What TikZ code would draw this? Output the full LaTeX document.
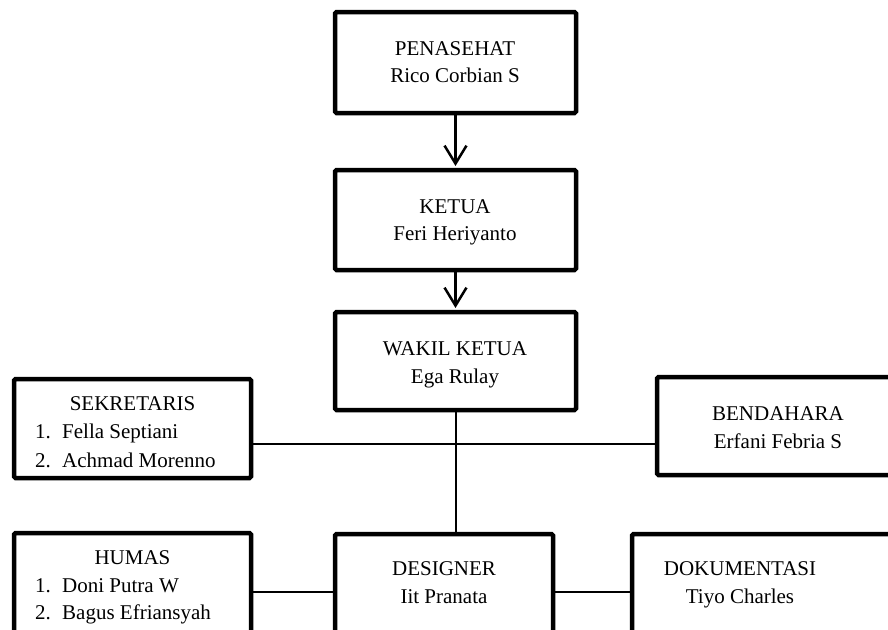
\documentclass[tikz,border=0pt]{standalone}
\usepackage{fontspec}
\setmainfont{Liberation Serif}
\usetikzlibrary{arrows.meta}
\tikzset{
  orgbox/.style={draw=black, line width=4.5pt, rounded corners=1.5pt, rectangle, inner sep=0pt, outer sep=0pt, fill=white},
  txt/.style={anchor=base, inner sep=0pt, font=\fontsize{21}{25}\selectfont},
  txtl/.style={anchor=base west, inner sep=0pt, font=\fontsize{21}{25}\selectfont},
  link/.style={draw=black, line width=2pt},
  arrowlink/.style={draw=black, line width=2.5pt, -{Straight Barb[length=18pt,width=22pt,line width=2.5pt]}, shorten >=4pt}
}
\begin{document}
\begin{tikzpicture}[x=1pt,y=-1pt]
\useasboundingbox (0,0) rectangle (888,629);
\clip (0,0) rectangle (888,629);
\fill[white] (0,0) rectangle (888,629);

% boxes
\node[orgbox, minimum width=241pt, minimum height=101pt] (pen) at (455.5,62.5) {};
\node[orgbox, minimum width=241pt, minimum height=100pt] (ket) at (455.5,220) {};
\node[orgbox, minimum width=241pt, minimum height=98pt] (wak) at (455.5,361) {};
\node[orgbox, minimum width=237pt, minimum height=99pt] (sek) at (132.5,428.5) {};
\node[orgbox, minimum width=243pt, minimum height=98pt] (ben) at (778.5,426) {};
\node[orgbox, minimum width=237pt, minimum height=107pt] (hum) at (132.5,586.5) {};
\node[orgbox, minimum width=218pt, minimum height=106pt] (des) at (444,587) {};
\node[orgbox, minimum width=268pt, minimum height=106pt] (dok) at (766,587) {};

% connectors
\draw[arrowlink] (pen.south) -- (ket.north);
\draw[arrowlink] (ket.south) -- (wak.north);
\coordinate (j1) at (455,444);
\coordinate (j2) at (455,592);
\draw[link] (wak.south) -- (wak.south |- des.north);
\draw[link] (sek.east |- j1) -- (ben.west |- j1);
\draw[link] (hum.east |- j2) -- (des.west |- j2);
\draw[link] (des.east |- j2) -- (dok.west |- j2);

% texts
\node[txt] (t1) at (455,55) {PENASEHAT};
\node[txt] (t2) at (455,82) {Rico Corbian S};
\node[txt] (t3) at (455,213) {KETUA};
\node[txt] (t4) at (455,240) {Feri Heriyanto};
\node[txt] (t5) at (455,355) {WAKIL KETUA};
\node[txt] (t6) at (455,383) {Ega Rulay};
\node[txt] (t7) at (132.5,410) {SEKRETARIS};
\node[txtl] (t8) at (35,438) {1.};
\node[txtl] (t9) at (62,438) {Fella Septiani};
\node[txtl] (t10) at (35,467) {2.};
\node[txtl] (t11) at (62,467) {Achmad Morenno};
\node[txt] (t12) at (778,420) {BENDAHARA};
\node[txt] (t13) at (778,448) {Erfani Febria S};
\node[txt] (t14) at (132.5,564) {HUMAS};
\node[txtl] (t15) at (35,592) {1.};
\node[txtl] (t16) at (62,592) {Doni Putra W};
\node[txtl] (t17) at (35,619) {2.};
\node[txtl] (t18) at (62,619) {Bagus Efriansyah};
\node[txt] (t19) at (444,575) {DESIGNER};
\node[txt] (t20) at (444,603) {Iit Pranata};
\node[txt] (t21) at (740,575) {DOKUMENTASI};
\node[txt] (t22) at (740,603) {Tiyo Charles};
\end{tikzpicture}
\end{document}
